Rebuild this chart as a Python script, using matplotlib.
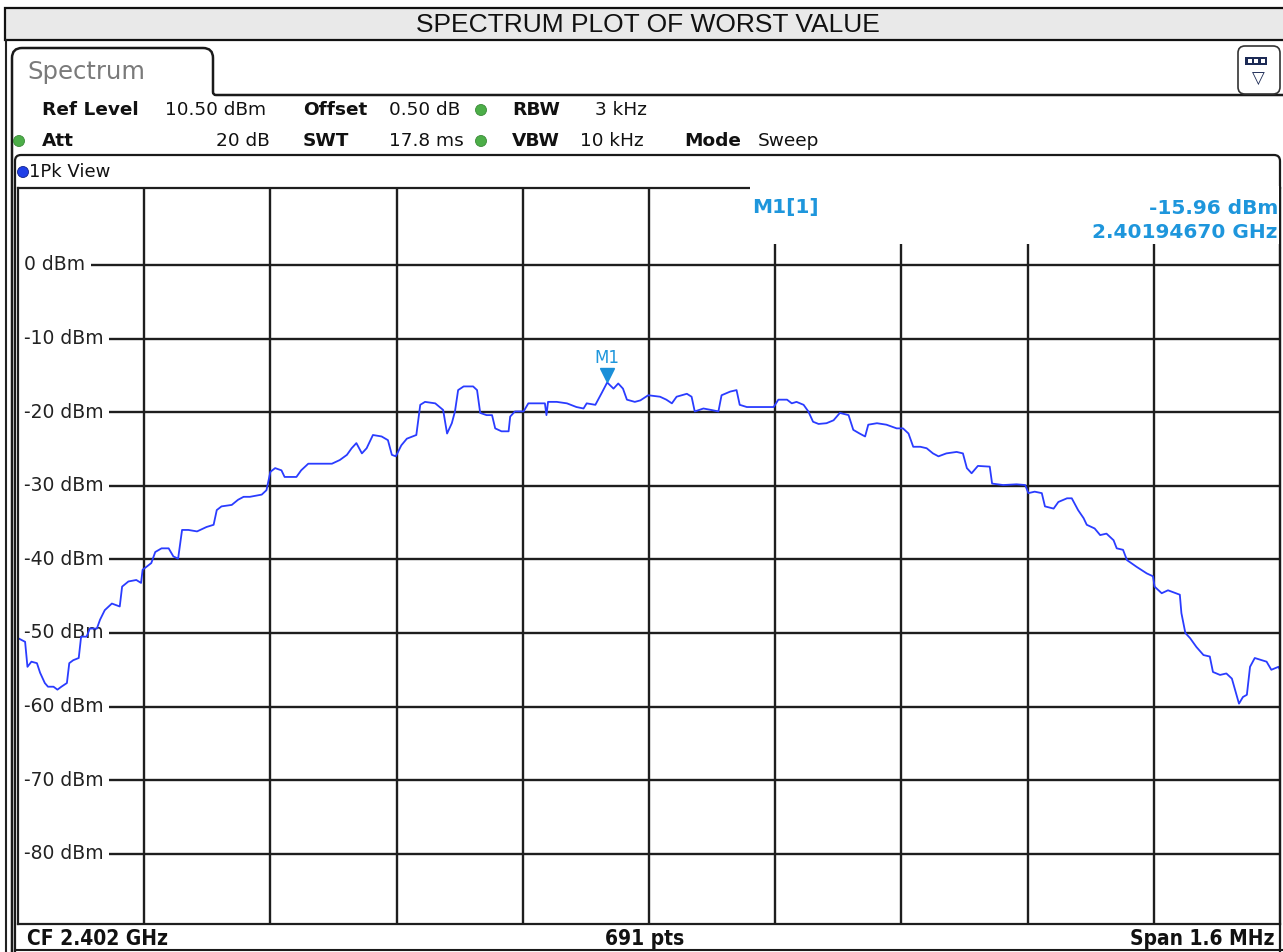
import matplotlib
matplotlib.use('Agg')
import matplotlib.pyplot as plt
from matplotlib.patches import Rectangle, FancyBboxPatch, Circle, PathPatch
from matplotlib.path import Path
import matplotlib.transforms as mtransforms

# ---------------- data ----------------
center_ghz = 2.402
span_khz = 1600
ref_level = 10.5
y_grid_levels = [0, -10, -20, -30, -40, -50, -60, -70, -80]

freq_khz = [-800, -791, -788, -783, -776, -772, -766, -762, -755, -750, -745, -738, -735, -730,
            -723, -720, -713, -709, -700, -696, -690, -681, -671, -668, -660, -650, -644, -642,
            -637, -631, -626, -618, -609, -603, -597, -592, -584, -573, -561, -552, -548, -542,
            -529, -521, -514, -506, -491, -485, -480, -474, -466, -462, -447, -441, -432, -415,
            -402, -392, -383, -377, -371, -364, -358, -350, -339, -331, -326, -321, -314, -307,
            -295, -290, -284, -271, -261, -256, -250, -246, -242, -235, -223, -218, -214, -206,
            -199, -195, -187, -178, -176, -170, -159, -153, -138, -132, -130, -128, -117, -104,
            -92, -83, -79, -68, -60, -53, -45, -39, -33, -28, -18, -11, -1, 14, 22, 29, 35, 48,
            54, 58, 69, 79, 88, 92, 103, 111, 115, 124, 141, 158, 164, 175, 181, 187, 196, 202,
            208, 215, 225, 234, 242, 253, 259, 267, 274, 278, 289, 301, 314, 322, 329, 335, 344,
            352, 360, 367, 377, 390, 398, 403, 409, 417, 432, 435, 449, 466, 477, 481, 489, 498,
            502, 513, 519, 530, 536, 544, 551, 555, 565, 572, 580, 589, 593, 601, 606, 618, 631,
            639, 641, 650, 658, 673, 675, 680, 686, 694, 703, 711, 715, 724, 732, 739, 743, 748,
            753, 758, 762, 768, 777, 783, 789, 798, 800]
level_dbm = [-50.7, -51.2, -54.6, -53.9, -54.1, -55.4, -56.8, -57.3, -57.3, -57.7, -57.3, -56.8, -54.1, -53.7,
             -53.4, -50.5, -50.5, -49.4, -49.4, -48.2, -46.9, -46.0, -46.4, -43.7, -43.0, -42.8, -43.2, -41.4,
             -41.0, -40.5, -39.0, -38.5, -38.5, -39.6, -39.9, -36.0, -36.0, -36.2, -35.6, -35.3, -33.3, -32.8,
             -32.6, -31.9, -31.5, -31.5, -31.2, -30.6, -28.1, -27.6, -27.9, -28.8, -28.8, -27.9, -27.0, -27.0,
             -27.0, -26.5, -25.8, -24.9, -24.2, -25.6, -24.9, -23.1, -23.3, -23.8, -25.8, -26.0, -24.5, -23.6,
             -23.1, -19.0, -18.6, -18.8, -19.7, -22.9, -21.5, -19.9, -17.0, -16.5, -16.5, -17.0, -20.1, -20.4,
             -20.4, -22.2, -22.6, -22.6, -20.6, -19.9, -19.9, -18.8, -18.8, -18.8, -20.4, -18.6, -18.6, -18.8,
             -19.3, -19.5, -18.8, -19.0, -17.4, -15.96, -16.8, -16.1, -16.8, -18.3, -18.6, -18.4, -17.7, -17.9, -18.3, -18.8, -17.9, -17.5,
             -17.9, -19.9, -19.5, -19.7, -19.9, -17.7, -17.2, -17.0, -19.0, -19.3, -19.3, -19.3, -18.3, -18.3, -18.8, -18.6, -19.0, -19.9,
             -21.3, -21.6, -21.5, -21.1, -20.1, -20.4, -22.4, -22.9, -23.3, -21.7, -21.5, -21.7, -22.2, -22.2, -22.9, -24.7, -24.7,
             -24.9, -25.6, -26.0, -25.6, -25.4, -25.6, -27.6, -28.3, -27.3, -27.4, -29.7, -29.9, -29.8, -29.9, -31.0, -30.8, -31.0,
             -32.8, -33.1, -32.2, -31.7, -31.7, -33.3, -34.4, -35.3, -35.8, -36.7, -36.5, -37.4, -38.5, -38.7, -40.1, -41.0, -41.9,
             -42.3, -43.7, -44.6, -44.2, -44.8, -47.3, -50.0, -50.7, -51.9, -53.0, -53.2, -55.3, -55.7, -55.5, -56.2, -57.7, -59.6,
             -58.7, -58.4, -54.6, -53.4, -53.7, -53.9, -55.0, -54.6, -55.0]

marker_freq_khz = -53.3
marker_level = -15.96
marker_label = "M1"
marker_readout = ["M1[1]", "-15.96 dBm", "2.40194670 GHz"]

title = "SPECTRUM PLOT OF WORST VALUE"
row1 = [("Ref Level", True), ("10.50 dBm", False), ("Offset", True), ("0.50 dB", False),
        ("RBW", True), ("3 kHz", False)]
row2 = [("Att", True), ("20 dB", False), ("SWT", True), ("17.8 ms", False),
        ("VBW", True), ("10 kHz", False), ("Mode", True), ("Sweep", False)]
footer = ["CF 2.402 GHz", "691 pts", "Span 1.6 MHz"]

# ---------------- figure ----------------
W, H = 1283, 952
fig = plt.figure(figsize=(W / 100, H / 100), dpi=100)
fig.patch.set_facecolor('white')

def fx(x):
    return x / W

def fy(y):
    return 1 - y / H

ax_left, ax_right, ax_top, ax_bot = 18, 1280, 187.7, 923.7
ax = fig.add_axes([fx(ax_left), fy(ax_bot), (ax_right - ax_left) / W, (ax_bot - ax_top) / H], zorder=1)
ax.set_xlim(-span_khz / 2, span_khz / 2)
ax.set_ylim(ref_level - 100, ref_level)
ax.set_xticks(list(range(-640, 641, 160)))
ax.set_yticks(y_grid_levels)
ax.tick_params(length=0, labelbottom=False, labelleft=False)
ax.grid(True, color='#1e1e1e', lw=1.7)
ax.set_axisbelow(True)
for s in ax.spines.values():
    s.set_color('#1e1e1e')
    s.set_linewidth(1.6)
    s.set_zorder(6)

ax.plot(freq_khz, level_dbm, color='#2a3cff', lw=1.3, zorder=4)

lab_tr = mtransforms.blended_transform_factory(ax.transAxes, ax.transData)
for lv in y_grid_levels:
    ax.text(0.0048, lv, f"{lv} dBm", transform=lab_tr, ha='left', va='center',
            fontsize=13.5, family='DejaVu Sans', color='#222222', zorder=3,
            bbox=dict(boxstyle='square,pad=0.3', fc='white', ec='none'))

mk_tr = mtransforms.offset_copy(ax.transData, fig=fig, x=0, y=7, units='dots')
ax.plot([marker_freq_khz], [marker_level], marker='v', ms=10, color='#1a8fd8',
        transform=mk_tr, zorder=5, clip_on=False)
lab_mk = mtransforms.offset_copy(ax.transData, fig=fig, x=0, y=24, units='dots')
ax.text(marker_freq_khz, marker_level, marker_label, transform=lab_mk, ha='center', va='center',
        fontsize=12, color='#1e96dc', family='DejaVu Sans', zorder=5)

# ---------------- overlay for instrument chrome ----------------
ov = fig.add_axes([0, 0, 1, 1], zorder=5)
ov.set_xlim(0, W)
ov.set_ylim(H, 0)
ov.axis('off')

# title bar
ov.add_patch(Rectangle((5, 8), W, 32, fc='#e9e9e9', ec='#111111', lw=1.6))
ov.text(648, 25, title, ha='center', va='center', fontsize=19, family='Liberation Sans', color='#111111')

# left window borders
ov.plot([5.5, 5.5], [40, H], color='#222222', lw=1.5)

# tab outline
r = 10
verts = [(12, H), (12, 48 + r), (12, 48), (12 + r, 48), (213 - r, 48), (213, 48), (213, 48 + r),
         (213, 95 - 3), (213, 95), (216, 95), (W, 95)]
codes = [Path.MOVETO, Path.LINETO, Path.CURVE3, Path.CURVE3, Path.LINETO, Path.CURVE3, Path.CURVE3,
         Path.LINETO, Path.CURVE3, Path.CURVE3, Path.LINETO]
ov.add_patch(PathPatch(Path(verts, codes), fc='none', ec='#1a1a1a', lw=1.8))
ov.text(27, 72, "Spectrum", ha='left', va='center', fontsize=17.5, family='DejaVu Sans', color='#7a7a7a')

# icon top right
ov.add_patch(FancyBboxPatch((1238, 46), 42, 48, boxstyle='round,pad=0,rounding_size=7',
                            fc='white', ec='#333333', lw=1.2))
ov.add_patch(Rectangle((1245, 57), 22, 8, fc='#1c2a55', ec='none'))
for dx in (1247.5, 1254, 1260.5):
    ov.add_patch(Rectangle((dx, 59), 4, 4, fc='white', ec='none'))
ov.text(1258, 79, "\u25BD", ha='center', va='center', fontsize=12, family='DejaVu Sans', color='#1c2a55')

# info rows
row1_x = [42, 165, 303, 389, 512, 595]
row2_x = [42, 270, 303, 389, 512, 580, 684, 758]
for (txt, bold), x in zip(row1, row1_x):
    ov.text(x, 110, txt, ha='left', va='center', fontsize=13.3, family='DejaVu Sans',
            fontweight='bold' if bold else 'normal', color='#111111')
for i, ((txt, bold), x) in enumerate(zip(row2, row2_x)):
    ov.text(x, 141, txt, ha='right' if i == 1 else 'left', va='center', fontsize=13.3,
            family='DejaVu Sans', fontweight='bold' if bold else 'normal', color='#111111')
for (cx, cy) in [(481, 110), (481, 141), (19, 141)]:
    ov.add_patch(Circle((cx, cy), 5.5, fc='#4cae48', ec='#3a8a38', lw=0.6))

# 1Pk View box
r2 = 6
verts = [(15, H), (15, 155 + r2), (15, 155), (15 + r2, 155), (1280 - r2, 155), (1280, 155),
         (1280, 155 + r2), (1280, H)]
codes = [Path.MOVETO, Path.LINETO, Path.CURVE3, Path.CURVE3, Path.LINETO, Path.CURVE3, Path.CURVE3,
         Path.LINETO]
ov.add_patch(PathPatch(Path(verts, codes), fc='none', ec='#1a1a1a', lw=1.6))
ov.add_patch(Circle((23, 172), 5.5, fc='#1f3fe8', ec='#10208a', lw=0.6))
ov.text(29, 172, "1Pk View", ha='left', va='center', fontsize=13, family='DejaVu Sans', color='#111111')

# marker readout box
ov.add_patch(Rectangle((750, 186), 529, 58, fc='white', ec='none'))
ov.text(752, 208, marker_readout[0], ha='left', va='center', fontsize=14.5, fontweight='bold',
        family='DejaVu Sans', color='#1e96dc')
ov.text(1278, 208, marker_readout[1], ha='right', va='center', fontsize=14.5, fontweight='bold',
        family='DejaVu Sans', color='#1e96dc')
ov.text(1278, 232, marker_readout[2], ha='right', va='center', fontsize=14.5, fontweight='bold',
        family='DejaVu Sans', color='#1e96dc')

# footer
ov.plot([15, W], [950, 950], color='#1a1a1a', lw=1.5)
ov.text(27, 939, footer[0], ha='left', va='center', fontsize=15, fontweight='bold',
        family='DejaVu Sans', fontstretch='condensed', color='#111111')
ov.text(645, 939, footer[1], ha='center', va='center', fontsize=15, fontweight='bold',
        family='DejaVu Sans', fontstretch='condensed', color='#111111')
ov.text(1275, 939, footer[2], ha='right', va='center', fontsize=15, fontweight='bold',
        family='DejaVu Sans', fontstretch='condensed', color='#111111')

fig.savefig('out.png', dpi=100, facecolor='white')
